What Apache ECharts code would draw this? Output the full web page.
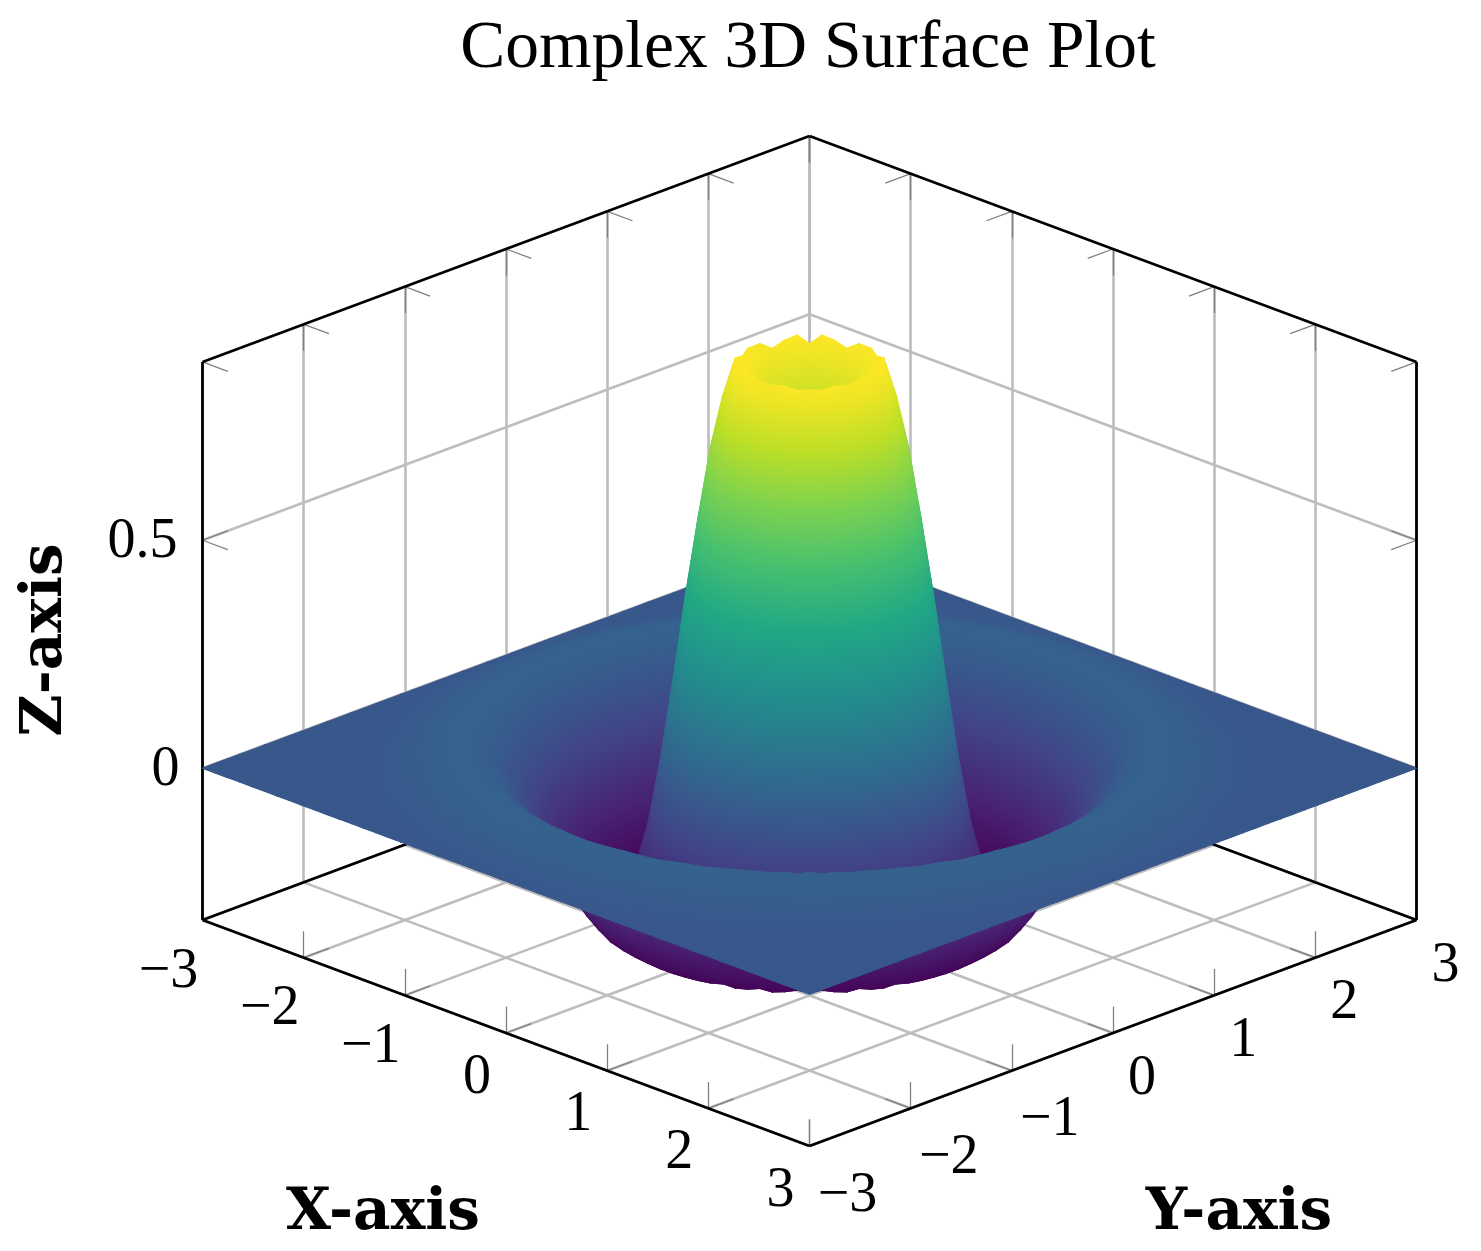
<!DOCTYPE html>
<html>
<head>
<meta charset="utf-8">
<title>Complex 3D Surface Plot</title>
<script src="https://cdn.jsdelivr.net/npm/echarts@6/dist/echarts.min.js"></script>
<style>
  html, body { margin: 0; padding: 0; background: #fff; }
  #chart { width: 1481px; height: 1251px; }
</style>
</head>
<body>
<div id="chart"></div>
<script>
const xTicks = [-3, -2, -1, 0, 1, 2, 3];
const yTicks = [-3, -2, -1, 0, 1, 2, 3];
const zTicks = [0, 0.5];
const zFloor = -0.333;
const zTop = 0.891;

// 50 x 50 samples over [-3, 3]; heights, one quadrant only.
// row and column k stand for |x| or |y| = (2k + 1) * 3 / 49
const zQuadrant = [
  [0.784, 0.799, 0.835, 0.88, 0.88, 0.722, 0.514, 0.266, 0.014, -0.168, -0.28, -0.329, -0.304, -0.256, -0.182, -0.101, -0.042, 0.003, 0.033, 0.049, 0.046, 0.037, 0.024, 0.012, 0],
  [0.799, 0.818, 0.853, 0.888, 0.848, 0.693, 0.476, 0.231, -0.013, -0.184, -0.289, -0.327, -0.301, -0.252, -0.176, -0.097, -0.038, 0.005, 0.035, 0.05, 0.046, 0.036, 0.024, 0.012, 0],
  [0.835, 0.853, 0.88, 0.889, 0.785, 0.618, 0.404, 0.16, -0.063, -0.212, -0.299, -0.324, -0.294, -0.244, -0.164, -0.089, -0.033, 0.009, 0.037, 0.05, 0.045, 0.035, 0.023, 0.011, 0],
  [0.88, 0.888, 0.889, 0.817, 0.693, 0.514, 0.301, 0.067, -0.121, -0.242, -0.312, -0.319, -0.284, -0.229, -0.148, -0.077, -0.024, 0.016, 0.041, 0.049, 0.044, 0.033, 0.021, 0.009, 0],
  [0.88, 0.848, 0.785, 0.693, 0.548, 0.37, 0.16, -0.038, -0.184, -0.28, -0.33, -0.311, -0.268, -0.206, -0.127, -0.062, -0.012, 0.022, 0.043, 0.049, 0.042, 0.031, 0.019, 0.008, 0],
  [0.722, 0.693, 0.618, 0.514, 0.37, 0.196, 0.014, -0.137, -0.242, -0.308, -0.323, -0.294, -0.248, -0.176, -0.101, -0.044, -0.001, 0.029, 0.046, 0.048, 0.04, 0.028, 0.016, 0.006, 0],
  [0.514, 0.476, 0.404, 0.301, 0.16, 0.014, -0.121, -0.222, -0.294, -0.329, -0.311, -0.272, -0.218, -0.142, -0.077, -0.027, 0.011, 0.037, 0.05, 0.046, 0.037, 0.025, 0.013, 0.004, 0],
  [0.266, 0.231, 0.16, 0.067, -0.038, -0.137, -0.222, -0.289, -0.325, -0.318, -0.287, -0.244, -0.176, -0.106, -0.05, -0.008, 0.024, 0.043, 0.049, 0.043, 0.033, 0.021, 0.01, 0.002, 0],
  [0.014, -0.013, -0.063, -0.121, -0.184, -0.242, -0.294, -0.325, -0.319, -0.294, -0.256, -0.2, -0.132, -0.074, -0.027, 0.009, 0.035, 0.048, 0.047, 0.04, 0.028, 0.017, 0.007, 0.001, 0],
  [-0.168, -0.184, -0.212, -0.242, -0.28, -0.308, -0.329, -0.318, -0.294, -0.26, -0.211, -0.148, -0.089, -0.042, -0.003, 0.025, 0.043, 0.049, 0.044, 0.034, 0.023, 0.012, 0.004, 0, 0],
  [-0.28, -0.289, -0.299, -0.312, -0.33, -0.323, -0.311, -0.287, -0.256, -0.211, -0.153, -0.097, -0.05, -0.012, 0.018, 0.038, 0.05, 0.047, 0.04, 0.029, 0.018, 0.008, 0.002, 0, 0],
  [-0.329, -0.327, -0.324, -0.319, -0.311, -0.294, -0.272, -0.244, -0.2, -0.148, -0.097, -0.054, -0.018, 0.011, 0.033, 0.046, 0.048, 0.043, 0.033, 0.023, 0.012, 0.004, 0, 0, 0],
  [-0.304, -0.301, -0.294, -0.284, -0.268, -0.248, -0.218, -0.176, -0.132, -0.089, -0.05, -0.018, 0.009, 0.031, 0.044, 0.049, 0.045, 0.037, 0.027, 0.016, 0.007, 0.002, 0, 0, 0],
  [-0.256, -0.252, -0.244, -0.229, -0.206, -0.176, -0.142, -0.106, -0.074, -0.042, -0.012, 0.011, 0.031, 0.044, 0.049, 0.046, 0.039, 0.029, 0.02, 0.01, 0.003, 0, 0, 0, 0],
  [-0.182, -0.176, -0.164, -0.148, -0.127, -0.101, -0.077, -0.05, -0.027, -0.003, 0.018, 0.033, 0.044, 0.049, 0.046, 0.04, 0.031, 0.022, 0.012, 0.005, 0.001, 0, 0, 0, 0],
  [-0.101, -0.097, -0.089, -0.077, -0.062, -0.044, -0.027, -0.008, 0.009, 0.025, 0.038, 0.046, 0.049, 0.046, 0.04, 0.032, 0.023, 0.014, 0.006, 0.002, 0, 0, 0, 0, 0],
  [-0.042, -0.038, -0.033, -0.024, -0.012, -0.001, 0.011, 0.024, 0.035, 0.043, 0.05, 0.048, 0.045, 0.039, 0.031, 0.023, 0.014, 0.007, 0.002, 0, 0, 0, 0, 0, 0],
  [0.003, 0.005, 0.009, 0.016, 0.022, 0.029, 0.037, 0.043, 0.048, 0.049, 0.047, 0.043, 0.037, 0.029, 0.022, 0.014, 0.007, 0.002, 0, 0, 0, 0, 0, 0, 0],
  [0.033, 0.035, 0.037, 0.041, 0.043, 0.046, 0.05, 0.049, 0.047, 0.044, 0.04, 0.033, 0.027, 0.02, 0.012, 0.006, 0.002, 0, 0, 0, 0, 0, 0, 0, 0],
  [0.049, 0.05, 0.05, 0.049, 0.049, 0.048, 0.046, 0.043, 0.04, 0.034, 0.029, 0.023, 0.016, 0.01, 0.005, 0.002, 0, 0, 0, 0, 0, 0, 0, 0, 0],
  [0.046, 0.046, 0.045, 0.044, 0.042, 0.04, 0.037, 0.033, 0.028, 0.023, 0.018, 0.012, 0.007, 0.003, 0.001, 0, 0, 0, 0, 0, 0, 0, 0, 0, 0],
  [0.037, 0.036, 0.035, 0.033, 0.031, 0.028, 0.025, 0.021, 0.017, 0.012, 0.008, 0.004, 0.002, 0, 0, 0, 0, 0, 0, 0, 0, 0, 0, 0, 0],
  [0.024, 0.024, 0.023, 0.021, 0.019, 0.016, 0.013, 0.01, 0.007, 0.004, 0.002, 0, 0, 0, 0, 0, 0, 0, 0, 0, 0, 0, 0, 0, 0],
  [0.012, 0.012, 0.011, 0.009, 0.008, 0.006, 0.004, 0.002, 0.001, 0, 0, 0, 0, 0, 0, 0, 0, 0, 0, 0, 0, 0, 0, 0, 0],
  [0, 0, 0, 0, 0, 0, 0, 0, 0, 0, 0, 0, 0, 0, 0, 0, 0, 0, 0, 0, 0, 0, 0, 0, 0]
];

const viridis = ['#440154', '#482475', '#414487', '#355f8d', '#2a788e', '#21918c',
  '#22a884', '#44bf70', '#7ad151', '#bddf26', '#fde725'];

// 3d -> the two hidden value axes
const tilt = 37.67 / 456;
const project = (x, y, z) => [x + y, z - tilt * (x - y)];
const depthOf = (x, y, z) => (x - y) + 1.81 * z;
const zSpan = zTop - zFloor;
const colorOf = (z) => echarts.color.lerp((z - zFloor) / zSpan, viridis);

const n = zQuadrant.length;
const coordOf = (i) => (2 * i + 1) * 3 / 49;
const foldIndex = (i) => (i < 0 ? -i - 1 : i);
const heightAt = (i, j) => zQuadrant[foldIndex(i)][foldIndex(j)];

const triangles = [];
for (let i = -n; i < n - 1; i++) {
  for (let j = -n; j < n - 1; j++) {
    const c = [[i, j], [i + 1, j], [i + 1, j + 1], [i, j + 1]].map(([a, b]) =>
      [coordOf(a), coordOf(b), heightAt(a, b)]);
    const mid = c.reduce((s, p) => [s[0] + p[0] / 4, s[1] + p[1] / 4, s[2] + p[2] / 4], [0, 0, 0]);
    const depth = depthOf(mid[0], mid[1], mid[2]);
    triangles.push([...c[0], ...c[1], ...c[3], depth]);
    triangles.push([...c[1], ...c[2], ...c[3], depth]);
  }
}
triangles.sort((a, b) => a[9] - b[9]);

// gradient along the steepest direction of the triangle, stops on the colormap anchors
function shade(p, z) {
  const lo = Math.min(z[0], z[1], z[2]);
  const hi = Math.max(z[0], z[1], z[2]);
  const det = (p[1][0] - p[0][0]) * (p[2][1] - p[0][1]) - (p[2][0] - p[0][0]) * (p[1][1] - p[0][1]);
  if (hi - lo < 1e-4 || Math.abs(det) < 0.5) return colorOf((lo + hi) / 2);
  const gx = ((z[1] - z[0]) * (p[2][1] - p[0][1]) - (z[2] - z[0]) * (p[1][1] - p[0][1])) / det;
  const gy = ((p[1][0] - p[0][0]) * (z[2] - z[0]) - (p[2][0] - p[0][0]) * (z[1] - z[0])) / det;
  const m = gx * gx + gy * gy;
  const start = p[z.indexOf(lo)];
  const colorStops = [{ offset: 0, color: colorOf(lo) }];
  for (let k = 0; k <= 10; k++) {
    const zk = zFloor + zSpan * k / 10;
    if (zk > lo && zk < hi) colorStops.push({ offset: (zk - lo) / (hi - lo), color: viridis[k] });
  }
  colorStops.push({ offset: 1, color: colorOf(hi) });
  return {
    type: 'linear',
    global: true,
    x: start[0],
    y: start[1],
    x2: start[0] + gx * (hi - lo) / m,
    y2: start[1] + gy * (hi - lo) / m,
    colorStops
  };
}

function renderTriangle(params, api) {
  const v = [0, 3, 6].map((k) => [api.value(k), api.value(k + 1), api.value(k + 2)]);
  const points = v.map((q) => api.coord(project(q[0], q[1], q[2])));
  const fill = shade(points, v.map((q) => q[2]));
  return {
    type: 'polygon',
    shape: { points },
    style: { fill, stroke: fill, lineWidth: 1.2, lineJoin: 'round' }
  };
}

// straight pieces of the box
const seg = (a, b) => ({ coords: [project(a[0], a[1], a[2]), project(b[0], b[1], b[2])] });

const gridLines = [];
const tickLines = [];
const tickLen = 0.25;
const tickLenZ = 0.058;
xTicks.forEach((t) => {
  gridLines.push(seg([t, 3, zFloor], [t, 3, zTop]), seg([t, -3, zFloor], [t, 3, zFloor]));
  tickLines.push(seg([t, -3, zFloor], [t, -3, zFloor + tickLenZ]), seg([t, -3, zFloor], [t, -3 + tickLen, zFloor]));
  tickLines.push(seg([t, 3, zTop], [t, 3, zTop - tickLenZ]), seg([t, 3, zTop], [t, 3 - tickLen, zTop]));
});
yTicks.forEach((t) => {
  gridLines.push(seg([-3, t, zFloor], [-3, t, zTop]), seg([-3, t, zFloor], [3, t, zFloor]));
  tickLines.push(seg([3, t, zFloor], [3, t, zFloor + tickLenZ]), seg([3, t, zFloor], [3 - tickLen, t, zFloor]));
  tickLines.push(seg([-3, t, zTop], [-3, t, zTop - tickLenZ]), seg([-3, t, zTop], [-3 + tickLen, t, zTop]));
});
zTicks.forEach((t) => {
  gridLines.push(seg([-3, -3, t], [-3, 3, t]), seg([-3, 3, t], [3, 3, t]));
  tickLines.push(seg([-3, -3, t], [-3 + tickLen, -3, t]), seg([-3, -3, t], [-3, -3 + tickLen, t]));
  tickLines.push(seg([3, 3, t], [3, 3 - tickLen, t]), seg([3, 3, t], [3 - tickLen, 3, t]));
});
const frameLines = [
  seg([-3, -3, zTop], [-3, 3, zTop]), seg([-3, 3, zTop], [3, 3, zTop]),
  seg([-3, -3, zFloor], [-3, -3, zTop]), seg([3, 3, zFloor], [3, 3, zTop]),
  seg([-3, -3, zFloor], [3, -3, zFloor]), seg([3, -3, zFloor], [3, 3, zFloor]),
  seg([-3, -3, zFloor], [-3, 3, zFloor]), seg([-3, 3, zFloor], [3, 3, zFloor])
];

const fmt = (t) => String(t).replace('-', '\u2212');
const tickLabels = [
  ...xTicks.map((t) => [...project(t, -3, zFloor), fmt(t), t < 0 ? -34 : -29, t < 0 ? 52 : 45]),
  ...yTicks.map((t) => [...project(3, t, zFloor), fmt(t), t < 0 ? 38 : 29, t < 0 ? 50 : 46]),
  ...zTicks.map((t) => [...project(-3, -3, t), fmt(t), t === 0 ? -37 : -60, 2])
];

function renderLabel(params, api) {
  const at = api.coord([api.value(0), api.value(1)]);
  return {
    type: 'text',
    x: at[0] + api.value(3),
    y: at[1] + api.value(4),
    style: {
      text: api.value(2),
      fontFamily: '"Liberation Serif"',
      fontSize: 56,
      fill: '#000',
      align: 'center',
      verticalAlign: 'middle'
    }
  };
}

const lineSeries = (data, color, width, z) => ({
  type: 'lines',
  coordinateSystem: 'cartesian2d',
  silent: true,
  animation: false,
  z,
  data,
  lineStyle: { color, width, opacity: 1, curveness: 0 }
});

const axisName = (text, x, y, rotation) => ({
  type: 'text',
  x,
  y,
  rotation: rotation || 0,
  style: {
    text,
    fontFamily: '"DejaVu Serif"',
    fontWeight: 'bold',
    fontSize: 58,
    fill: '#000',
    align: 'center',
    verticalAlign: 'middle'
  }
});

const myChart = echarts.init(document.getElementById('chart'), null, { renderer: 'canvas' });
myChart.setOption({
  animation: false,
  backgroundColor: '#fff',
  title: {
    text: 'Complex 3D Surface Plot',
    left: 803,
    top: 10,
    textAlign: 'center',
    textStyle: { fontFamily: '"Liberation Serif"', fontWeight: 'normal', fontSize: 67.5, color: '#000' }
  },
  grid: { left: 202.5, top: 136, width: 1214, height: 1010, containLabel: false },
  xAxis: { type: 'value', min: -6, max: 6, show: false },
  yAxis: { type: 'value', min: zFloor - tilt * 6, max: zTop + tilt * 6, show: false },
  graphic: [
    axisName('X-axis', 383, 1214),
    axisName('Y-axis', 1239, 1214),
    axisName('Z-axis', 46, 640, Math.PI / 2)
  ],
  series: [
    lineSeries(gridLines, '#bdbdbd', 2.6, 2),
    lineSeries(tickLines, '#808080', 1.3, 3),
    lineSeries(frameLines, '#000', 2.8, 4),
    {
      type: 'custom',
      coordinateSystem: 'cartesian2d',
      silent: true,
      animation: false,
      z: 5,
      progressive: 0,
      renderItem: renderTriangle,
      data: triangles
    },
    {
      type: 'custom',
      coordinateSystem: 'cartesian2d',
      silent: true,
      animation: false,
      z: 6,
      renderItem: renderLabel,
      dimensions: ['u', 'v', { name: 'text', type: 'ordinal' }, 'dx', 'dy'],
      data: tickLabels
    }
  ]
});
</script>
</body>
</html>
